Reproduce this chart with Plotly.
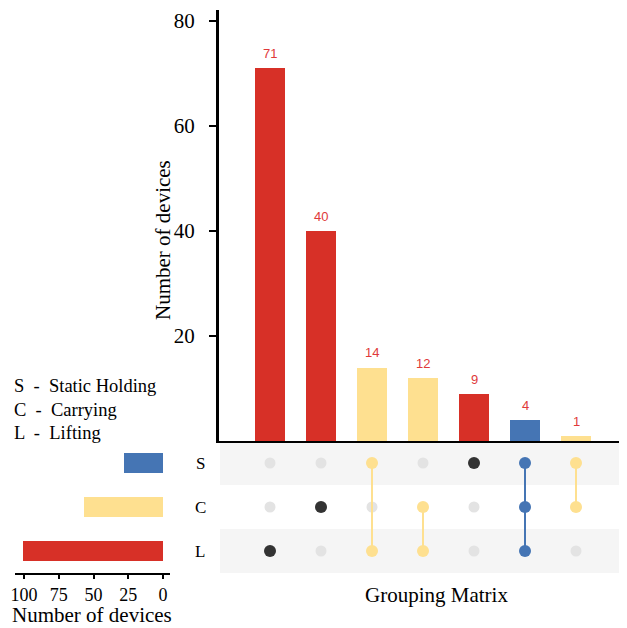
import plotly.graph_objects as go

# ---- data ----
sets = ["S", "C", "L"]
set_names = ["Static Holding", "Carrying", "Lifting"]
set_sizes = [28, 57, 101]
set_colors = ["#4575b4", "#fee090", "#d73027"]

combos = [["L"], ["C"], ["S", "L"], ["C", "L"], ["S"], ["S", "C", "L"], ["S", "C"]]
combo_counts = [71, 40, 14, 12, 9, 4, 1]
bar_colors = ["#d73027", "#d73027", "#fee090", "#fee090", "#d73027", "#4575b4", "#fee090"]
dot_colors = ["#333333", "#333333", "#fee090", "#fee090", "#333333", "#4575b4", "#fee090"]

y_ticks = [20, 40, 60, 80]
left_ticks = [100, 75, 50, 25, 0]

OFF = 8  # page body margin
W, H = 627 - OFF, 628 - OFF
SERIF = "Liberation Serif"
SANS = "Liberation Sans"

def px(x):
    return (x - OFF) / W

def py(y):
    return 1 - (y - OFF) / H

fig = go.Figure()

ncol = len(combos)
xs = list(range(ncol))

# main bars
fig.add_trace(go.Bar(x=xs, y=combo_counts, marker=dict(color=bar_colors, line=dict(width=0)),
                     width=0.6, xaxis="x", yaxis="y", showlegend=False, hoverinfo="skip"))

# matrix: inactive dots
inx, iny, acx, acy, acc = [], [], [], [], []
for i, c in enumerate(combos):
    for j, s in enumerate(sets):
        if s in c:
            acx.append(i); acy.append(j); acc.append(dot_colors[i])
        else:
            inx.append(i); iny.append(j)
fig.add_trace(go.Scatter(x=inx, y=iny, mode="markers", marker=dict(size=11, color="#e3e3e3"),
                         xaxis="x2", yaxis="y2", showlegend=False, hoverinfo="skip"))
# connecting lines
for i, c in enumerate(combos):
    rows = [sets.index(s) for s in c]
    if len(rows) > 1:
        fig.add_trace(go.Scatter(x=[i, i], y=[min(rows), max(rows)], mode="lines",
                                 line=dict(color=dot_colors[i], width=2),
                                 xaxis="x2", yaxis="y2", showlegend=False, hoverinfo="skip"))
fig.add_trace(go.Scatter(x=acx, y=acy, mode="markers", marker=dict(size=12, color=acc),
                         xaxis="x2", yaxis="y2", showlegend=False, hoverinfo="skip"))

# set size bars
fig.add_trace(go.Bar(x=set_sizes, y=list(range(len(sets))), orientation="h",
                     marker=dict(color=set_colors, line=dict(width=0)), width=0.45,
                     xaxis="x3", yaxis="y3", showlegend=False, hoverinfo="skip"))

# value labels
annotations = []
for i, v in enumerate(combo_counts):
    annotations.append(dict(x=i, y=v, xref="x", yref="y", text=str(v), showarrow=False,
                            xanchor="center", yanchor="bottom", yshift=5,
                            font=dict(family=SANS, size=13, color="#e0393a")))
# row labels
for j, s in enumerate(sets):
    annotations.append(dict(x=px(200), y=j, xref="paper", yref="y2", text=s, showarrow=False,
                            xanchor="center", yanchor="middle",
                            font=dict(family=SERIF, size=17, color="black")))
# legend text
for k, (s, n) in enumerate(zip(sets, set_names)):
    annotations.append(dict(x=px(12), y=py(386 + k * 23.5), xref="paper", yref="paper",
                            text=f"{s}  -  {n}", showarrow=False, xanchor="left", yanchor="middle",
                            font=dict(family=SERIF, size=18.5, color="black")))
annotations.append(dict(x=px(163), y=py(240), xref="paper", yref="paper", text="Number of devices",
                        textangle=-90, showarrow=False, xanchor="center", yanchor="middle",
                        font=dict(family=SERIF, size=21, color="black")))
annotations.append(dict(x=px(436), y=py(595), xref="paper", yref="paper", text="Grouping Matrix",
                        showarrow=False, xanchor="center", yanchor="middle",
                        font=dict(family=SERIF, size=21, color="black")))
annotations.append(dict(x=px(92), y=py(615), xref="paper", yref="paper", text="Number of devices",
                        showarrow=False, xanchor="center", yanchor="middle",
                        font=dict(family=SERIF, size=21, color="black")))

shapes = []
for j in [0, 2]:
    shapes.append(dict(type="rect", xref="paper", yref="y2", x0=px(220), x1=1,
                       y0=j - 0.5, y1=j + 0.5, fillcolor="#f5f5f5", line=dict(width=0), layer="below"))

mat_dom = [py(573), py(441)]
fig.update_layout(
    width=W, height=H, margin=dict(l=0, r=0, t=0, b=0),
    plot_bgcolor="rgba(0,0,0,0)", paper_bgcolor="white",
    annotations=annotations, shapes=shapes,
    xaxis=dict(domain=[px(219), 1], range=[-1, ncol], showticklabels=False, ticks="",
               showgrid=False, zeroline=False, showline=True, linecolor="black", linewidth=2,
               anchor="y"),
    yaxis=dict(domain=[py(441), py(10)], range=[0, 82.1], tickvals=y_ticks, ticks="outside",
               ticklen=7, tickwidth=2, tickcolor="black", showgrid=False, zeroline=False,
               showline=True, linecolor="black", linewidth=3, anchor="x", ticklabelstandoff=10,
               tickfont=dict(family=SERIF, size=21, color="black"), automargin=False),
    xaxis2=dict(domain=[px(219), 1], range=[-1, ncol], visible=False, anchor="y2"),
    yaxis2=dict(domain=mat_dom, range=[2.5, -0.5], visible=False, anchor="x2"),
    xaxis3=dict(domain=[px(15), px(170)], range=[106.5, -5], tickvals=left_ticks, ticks="outside",
                ticklen=4, tickwidth=1.5, tickcolor="black", showgrid=False, zeroline=False,
                showline=True, linecolor="black", linewidth=2, anchor="y3",
                tickfont=dict(family=SERIF, size=18, color="black"), automargin=False),
    yaxis3=dict(domain=mat_dom, range=[2.5, -0.5], visible=False, anchor="x3"),
    bargap=0,
)

fig.write_html("out.html")
